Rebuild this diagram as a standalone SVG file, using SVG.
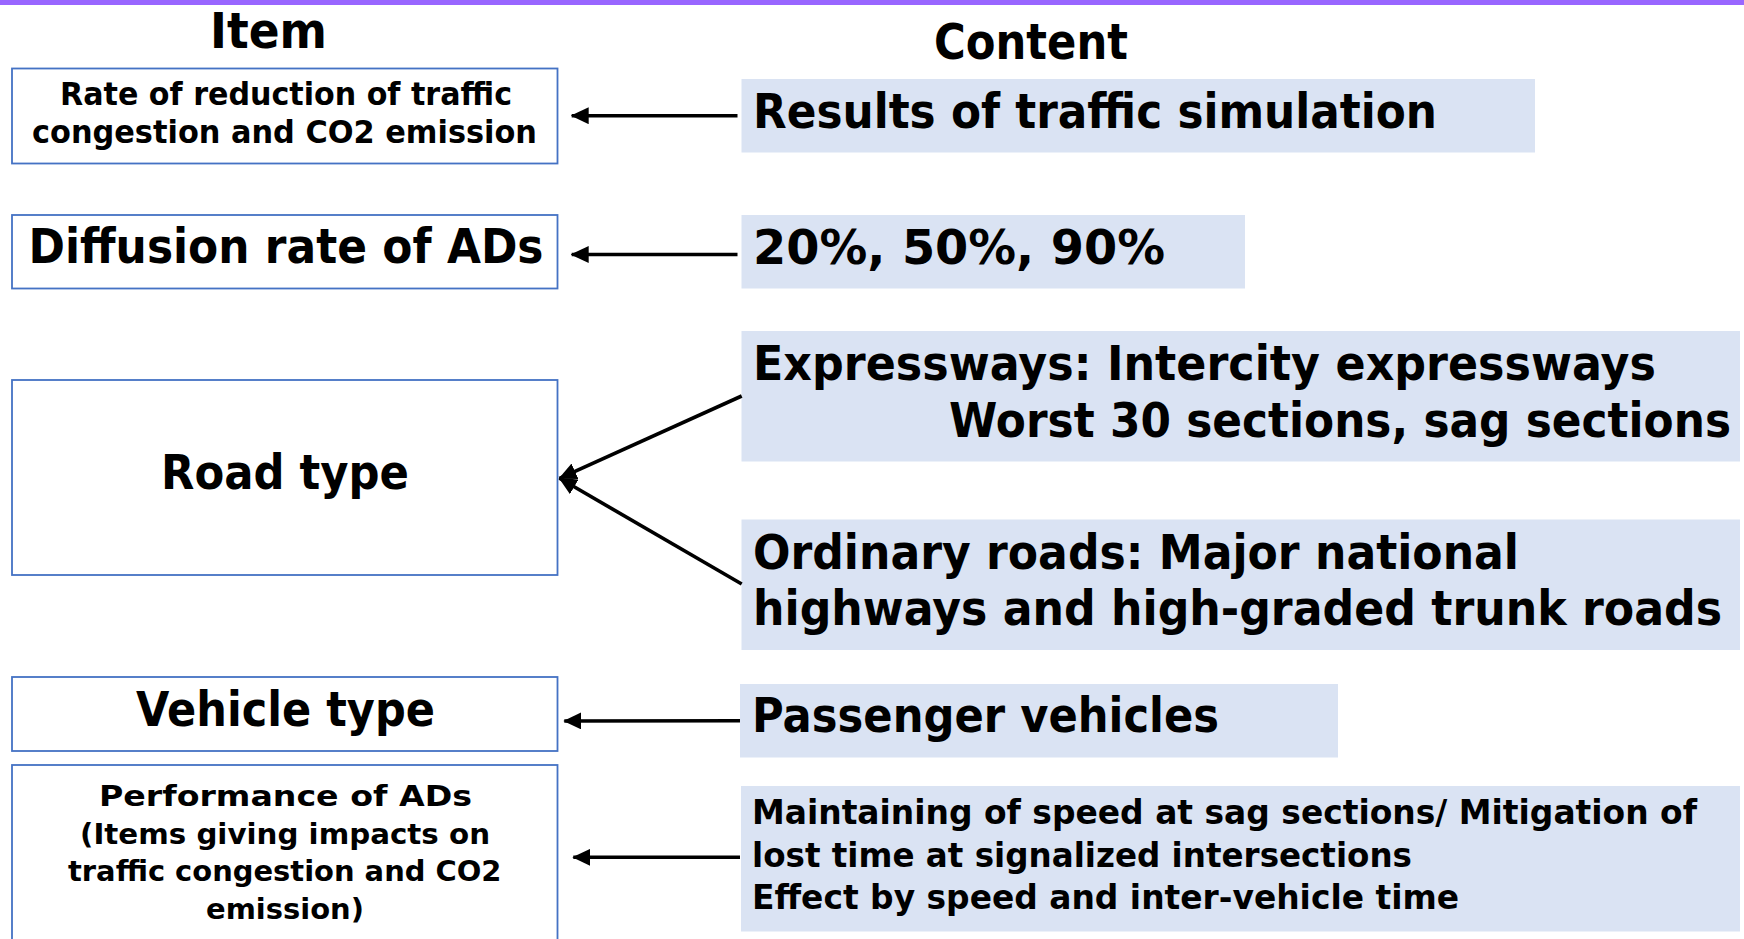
<svg xmlns="http://www.w3.org/2000/svg" width="1744" height="939" viewBox="0 0 1744 939">
<style>
  text { font-family: "DejaVu Sans", "Liberation Sans", sans-serif; font-weight: bold; fill: #000; }
  .item { fill: #fff; stroke: #4472C4; stroke-width: 1.8; }
  .content { fill: #DAE3F3; stroke: none; }
  .conn { stroke: #000; stroke-width: 3.6; fill: none; marker-end: url(#arrow); }
  .h { font-size: 49px; }
  .big { font-size: 48px; }
  .mid { font-size: 32px; }
  .sm { font-size: 28.5px; }
  .cm { font-size: 33px; }
</style>
<defs>
  <marker id="arrow" viewBox="0 0 18 17" refX="17" refY="8.5" markerWidth="18" markerHeight="17" markerUnits="userSpaceOnUse" orient="auto">
    <path d="M0,0 L18,8.5 L0,17 z" fill="#000"/>
  </marker>
</defs>
<rect x="0" y="0" width="1744" height="939" fill="#fff"/>
<rect x="0" y="0" width="1744" height="5" fill="#9966FF"/>

<g id="headers">
  <text class="h" x="210" y="48" textLength="117" lengthAdjust="spacingAndGlyphs">Item</text>
  <text class="h" x="934" y="59" textLength="194" lengthAdjust="spacingAndGlyphs">Content</text>
</g>

<g id="item-rate">
  <rect class="item" x="12" y="68.5" width="545.5" height="95"/>
  <text class="mid" x="60" y="105" textLength="452" lengthAdjust="spacingAndGlyphs">Rate of reduction of traffic</text>
  <text class="mid" x="32" y="143" textLength="505" lengthAdjust="spacingAndGlyphs">congestion and CO2 emission</text>
</g>
<g id="item-diffusion">
  <rect class="item" x="12" y="215" width="545.5" height="73.5"/>
  <text class="big" x="28.5" y="263" textLength="515" lengthAdjust="spacingAndGlyphs">Diffusion rate of ADs</text>
</g>
<g id="item-road">
  <rect class="item" x="12" y="380" width="545.5" height="195"/>
  <text class="big" x="161" y="489" textLength="248" lengthAdjust="spacingAndGlyphs">Road type</text>
</g>
<g id="item-vehicle">
  <rect class="item" x="12" y="677" width="545.5" height="74"/>
  <text class="big" x="136" y="726" textLength="299" lengthAdjust="spacingAndGlyphs">Vehicle type</text>
</g>
<g id="item-performance">
  <rect class="item" x="12" y="765" width="545.5" height="200"/>
  <text class="sm" x="99" y="806" textLength="373" lengthAdjust="spacingAndGlyphs">Performance of ADs</text>
  <text class="sm" x="80" y="843.5" textLength="410" lengthAdjust="spacingAndGlyphs">(Items giving impacts on</text>
  <text class="sm" x="68" y="881" textLength="433.5" lengthAdjust="spacingAndGlyphs">traffic congestion and CO2</text>
  <text class="sm" x="206" y="918.5" textLength="158" lengthAdjust="spacingAndGlyphs">emission)</text>
</g>

<g id="content-results">
  <rect class="content" x="741.5" y="79" width="793.5" height="73.5"/>
  <text class="big" x="753" y="128" textLength="684" lengthAdjust="spacingAndGlyphs">Results of traffic simulation</text>
</g>
<g id="content-rates">
  <rect class="content" x="741.5" y="215" width="503.5" height="73.5"/>
  <text class="big" x="753" y="264" textLength="412" lengthAdjust="spacingAndGlyphs">20%, 50%, 90%</text>
</g>
<g id="content-expressways">
  <rect class="content" x="741.5" y="331" width="998.5" height="130.5"/>
  <text class="big" x="753" y="380" textLength="903" lengthAdjust="spacingAndGlyphs">Expressways: Intercity expressways</text>
  <text class="big" x="949" y="437" textLength="782" lengthAdjust="spacingAndGlyphs">Worst 30 sections, sag sections</text>
</g>
<g id="content-ordinary">
  <rect class="content" x="741.5" y="519.5" width="998.5" height="130.5"/>
  <text class="big" x="753" y="569" textLength="766" lengthAdjust="spacingAndGlyphs">Ordinary roads: Major national</text>
  <text class="big" x="753" y="625" textLength="969" lengthAdjust="spacingAndGlyphs">highways and high-graded trunk roads</text>
</g>
<g id="content-passenger">
  <rect class="content" x="740" y="684" width="598" height="73.5"/>
  <text class="big" x="752" y="732" textLength="467" lengthAdjust="spacingAndGlyphs">Passenger vehicles</text>
</g>
<g id="content-performance">
  <rect class="content" x="741" y="786" width="999" height="145.5"/>
  <text class="cm" x="752" y="824" textLength="945" lengthAdjust="spacingAndGlyphs">Maintaining of speed at sag sections/ Mitigation of</text>
  <text class="cm" x="752" y="866.7" textLength="660" lengthAdjust="spacingAndGlyphs">lost time at signalized intersections</text>
  <text class="cm" x="752" y="909.3" textLength="707" lengthAdjust="spacingAndGlyphs">Effect by speed and inter-vehicle time</text>
</g>

<g id="connectors">
  <line class="conn" x1="737.5" y1="115.7" x2="571.7" y2="115.7"/>
  <line class="conn" x1="737.5" y1="254.5" x2="571.7" y2="254.5"/>
  <line class="conn" x1="741.7" y1="396" x2="559.5" y2="478.3"/>
  <line class="conn" x1="741.7" y1="584" x2="559.5" y2="478.3"/>
  <line class="conn" x1="740" y1="720.7" x2="564.3" y2="721"/>
  <line class="conn" x1="740" y1="857.3" x2="573.3" y2="857.3"/>
</g>
</svg>
